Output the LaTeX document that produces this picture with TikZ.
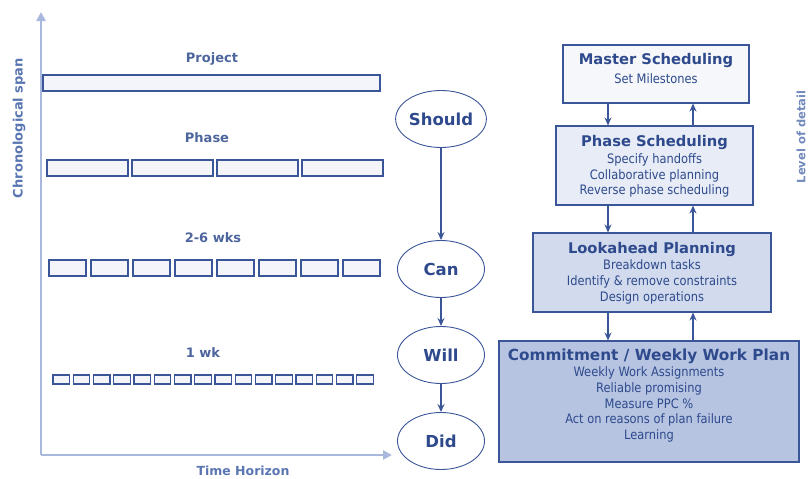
\documentclass[tikz,border=0pt]{standalone}
\usepackage{fontspec}
\setmainfont{DejaVu Sans}
\newfontfamily\subf[FakeStretch=0.88]{DejaVu Sans}
\usetikzlibrary{arrows.meta,shapes.geometric}
\definecolor{navy}{HTML}{2E4A8C}
\definecolor{linenavy}{HTML}{3A5698}
\definecolor{axisblue}{HTML}{A9B9DD}
\definecolor{labelblue}{HTML}{5A76B2}
\definecolor{barfill}{HTML}{F3F5FA}
\definecolor{fillA}{HTML}{F5F7FB}
\definecolor{fillB}{HTML}{E7ECF6}
\definecolor{fillC}{HTML}{D2DBEE}
\definecolor{fillD}{HTML}{B6C4E2}
\tikzset{
  axis/.style={draw=axisblue, line width=2.6pt, -{Triangle[width=9pt,length=9pt]}},
  axislabel/.style={text=labelblue, font=\bfseries\fontsize{13}{15}\selectfont},
  barlabel/.style={text=navy!85, font=\bfseries\fontsize{13}{15}\selectfont},
  bar/.style={draw=linenavy, line width=1.4pt, fill=barfill},
  state/.style={ellipse, draw=linenavy, line width=0.9pt, fill=white, minimum width=87pt, minimum height=57pt, inner sep=0pt, text=navy, font=\bfseries\fontsize{16.5}{18}\selectfont},
  flow/.style={draw=linenavy, line width=1.5pt, -{Stealth[length=8pt,width=7pt]}},
  level/.style={draw=linenavy, line width=1.1pt, inner sep=0pt},
  boxtitle/.style={text=navy, font=\bfseries\fontsize{14.7}{16}\selectfont, inner sep=0pt},
  boxbody/.style={text=navy, align=center, font=\subf\fontsize{13}{15.6}\selectfont, inner sep=0pt},
}
\begin{document}
\begin{tikzpicture}[x=1pt,y=-1pt]
\useasboundingbox (0,0) rectangle (809,479);

% axes
\coordinate (origin) at (41,455);
\coordinate (ytip) at (41,12);
\coordinate (xtip) at (392,455);
\draw[axis] (origin) -- (ytip);
\draw[axis] (origin) -- (xtip);
\node[axislabel, rotate=90] (yl) at (19,128) {Chronological span};
\node[axislabel, font=\bfseries\fontsize{12.5}{14}\selectfont] (xl) at (243,471) {Time Horizon};

% time bars
\node[barlabel] (lproj) at (212,59) {Project};
\draw[bar] (43,75) rectangle (380,91);

\node[barlabel] (lphase) at (207,138) {Phase};
\foreach \i in {0,...,3}
  \draw[bar] ({47+\i*85},160) rectangle ({128+\i*85},176);

\node[barlabel] (lwks) at (213,238) {2-6 wks};
\foreach \i in {0,...,7}
  \draw[bar] ({49+\i*42},260) rectangle ({86+\i*42},276);

\node[barlabel] (lwk) at (203,353) {1 wk};
\foreach \i in {0,...,15}
  \draw[bar, line width=1.3pt] ({53+\i*20.25},375) rectangle ({69.5+\i*20.25},384);

% should / can / will / did
\node[state] (should) at (441,119) {Should};
\node[state] (can) at (441,269) {Can};
\node[state] (will) at (441,355) {Will};
\node[state] (did) at (441,441) {Did};
\draw[flow] (should) -- (can);
\draw[flow] (can) -- (will);
\draw[flow] (will) -- (did);

% planning levels
\node[level, fill=fillA, minimum width=186pt, minimum height=58pt] (master) at (656,74) {};
\node[level, fill=fillB, minimum width=197pt, minimum height=79pt] (phase) at (654.5,165.5) {};
\node[level, fill=fillC, minimum width=238pt, minimum height=79pt] (look) at (652,272.5) {};
\node[level, fill=fillD, minimum width=300pt, minimum height=121pt] (commit) at (649,401.5) {};

\node[boxtitle] (tmaster) at (656,61) {Master Scheduling};
\node[boxbody] (bmaster) at (656,79) {Set Milestones};

\node[boxtitle] (tphase) at (654.5,143) {Phase Scheduling};
\node[boxbody] (bphase) at (654.5,175.5) {Specify handoffs\\Collaborative planning\\Reverse phase scheduling};

\node[boxtitle] (tlook) at (652,249) {Lookahead Planning};
\node[boxbody] (blook) at (652,282) {Breakdown tasks\\Identify \& remove constraints\\Design operations};

\node[boxtitle, font=\bfseries\fontsize{15.3}{17}\selectfont] (tcommit) at (649,356) {Commitment / Weekly Work Plan};
\node[boxbody] (bcommit) at (649,404.5) {Weekly Work Assignments\\Reliable promising\\Measure PPC \%\\Act on reasons of plan failure\\Learning};

\coordinate (down) at (608,0);
\coordinate (up) at (693,0);
\draw[flow] (master.south -| down) -- (phase.north -| down);
\draw[flow] (phase.north -| up) -- (master.south -| up);
\draw[flow] (phase.south -| down) -- (look.north -| down);
\draw[flow] (look.north -| up) -- (phase.south -| up);
\draw[flow] (look.south -| down) -- (commit.north -| down);
\draw[flow] (commit.north -| up) -- (look.south -| up);

\node[axislabel, rotate=90, text=labelblue!85, font=\bfseries\fontsize{11.5}{13}\selectfont] (detail) at (801,137) {Level of detail};
\end{tikzpicture}
\end{document}
